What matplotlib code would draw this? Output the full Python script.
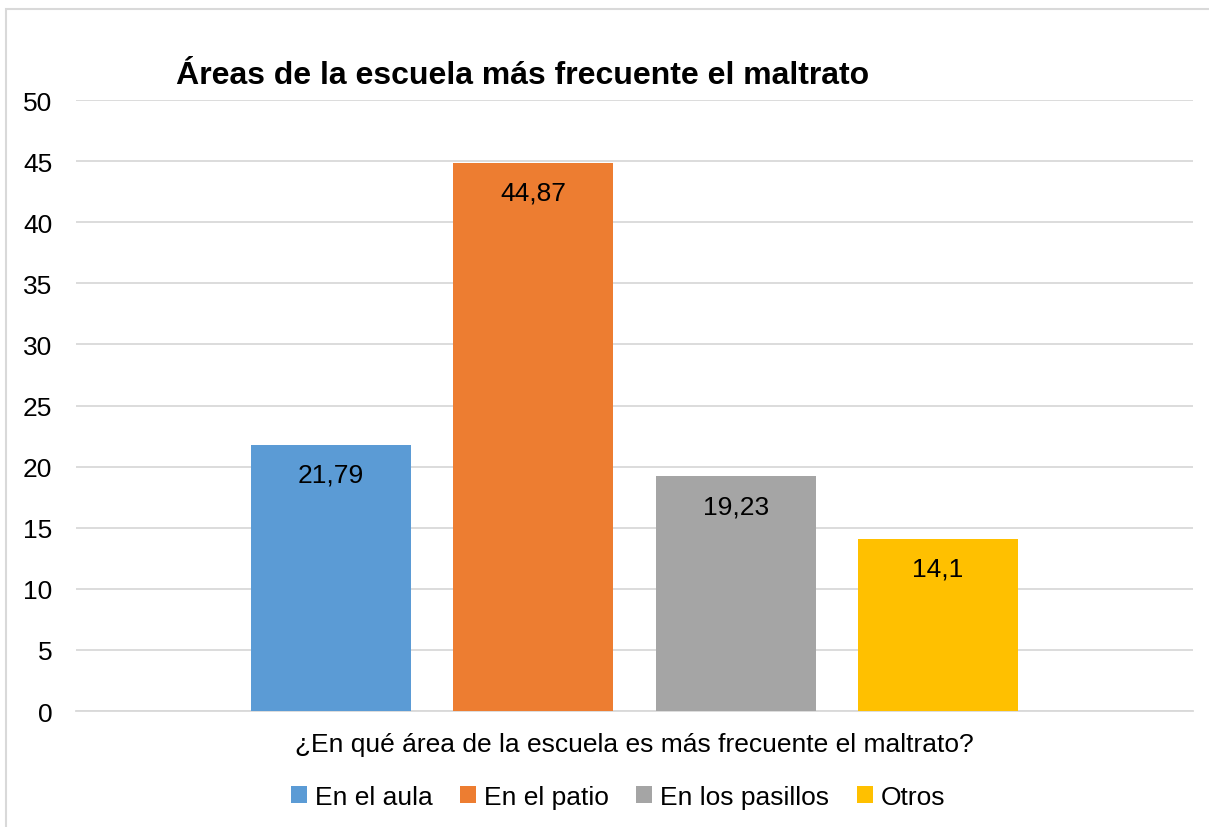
import matplotlib
matplotlib.use("Agg")
import matplotlib.pyplot as plt
from matplotlib.patches import Rectangle
import numpy as np

plt.rcParams['font.family'] = ['Liberation Sans', 'DejaVu Sans']

series = ["En el aula", "En el patio", "En los pasillos", "Otros"]
values = [21.79, 44.87, 19.23, 14.1]
labels = ["21,79", "44,87", "19,23", "14,1"]
colors = ["#5B9BD5", "#ED7D31", "#A5A5A5", "#FFC000"]
category = "¿En qué área de la escuela es más frecuente el maltrato?"
title = "Áreas de la escuela más frecuente el maltrato"

W, H = 1209, 828
fig = plt.figure(figsize=(W / 100, H / 100), dpi=100)

# plot area in pixels: x 76..1193, y 101..712
ax = fig.add_axes([76 / W, 1 - 712 / H, (1193 - 76) / W, (712 - 101) / H])

bar_w = 160 / 1117
step = 202.3 / 1117
offsets = (np.arange(len(values)) - 1.5) * step
for x, v, lab, c, name in zip(offsets, values, labels, colors, series):
    ax.bar(x, v, width=bar_w, color=c, label=name, zorder=3)
    ax.annotate(lab, (x, v), xytext=(0, -30), textcoords="offset pixels",
                ha="center", va="center", fontsize=19, color="#000000", zorder=4)

ax.set_xlim(-0.5, 0.5)
ax.set_ylim(0, 50)
ax.set_yticks(np.arange(0, 51, 5))
ax.yaxis.grid(True, color="#D9D9D9", linewidth=1.3, zorder=0)
ax.set_xticks([])
for s in ["top", "right", "left"]:
    ax.spines[s].set_visible(False)
ax.spines["bottom"].set_color("#D9D9D9")
ax.spines["bottom"].set_linewidth(1.3)
ax.tick_params(axis="y", length=0, labelsize=19, pad=17, colors="#000000")

fig.text(634 / W, 1 - 745 / H, category, ha="center", va="center", fontsize=19)
fig.text(176 / W, 1 - 76 / H, title, ha="left", va="center", fontsize=23, fontweight="bold")

fig.legend(loc="center", bbox_to_anchor=(618 / W, 1 - 798 / H), ncol=4, frameon=False,
           fontsize=19, handlelength=0.6, handleheight=0.6, handletextpad=0.3,
           columnspacing=1.05)

# chart frame
fig.patches.append(Rectangle((6 / W, -0.1), 1.2, 1 - 10 / H + 0.1, transform=fig.transFigure,
                             fill=False, edgecolor="#D9D9D9", linewidth=1.5))

fig.savefig("out.png", dpi=100)
